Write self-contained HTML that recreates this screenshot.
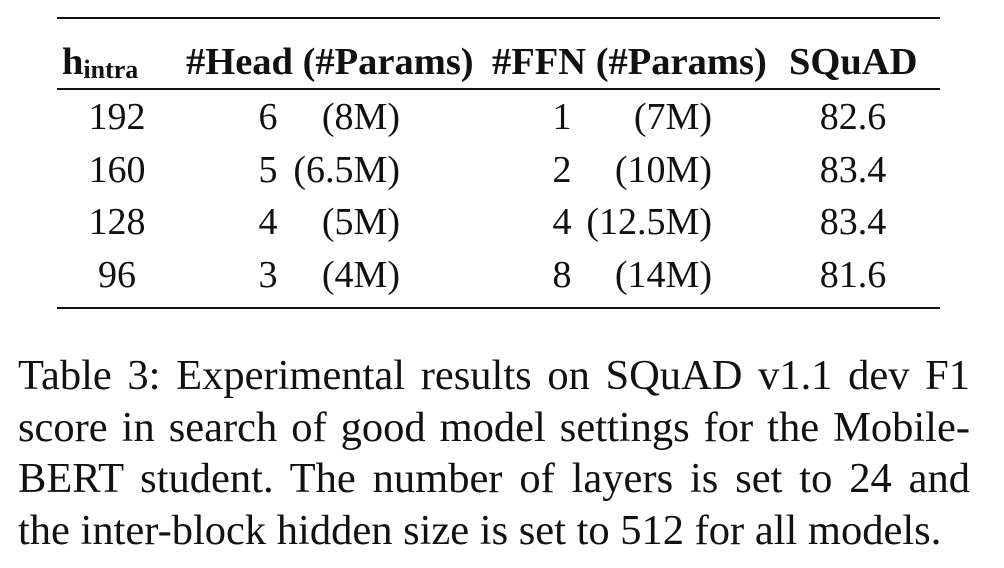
<!DOCTYPE html>
<html><head><meta charset="utf-8">
<style>
html,body{margin:0;padding:0;background:#fff;}
body{width:1004px;height:568px;position:relative;overflow:hidden;font-family:"Liberation Serif",serif;color:#111;}
.a{position:absolute;white-space:nowrap;line-height:1;}
.h{font-weight:bold;font-size:38.5px;top:43px;}
.r{font-size:38px;}
.rule{position:absolute;left:57px;width:883px;background:#111;}
.cap{position:absolute;left:18px;width:952px;font-size:42.5px;line-height:1;text-align:justify;text-align-last:justify;white-space:nowrap;}
</style></head><body>
<div>
<div class="rule" style="top:17px;height:2px"></div>
<div class="a h" style="left:62px">h<sub style="font-size:26px;vertical-align:-4px">intra</sub></div>
<div class="a h" style="left:186px">#Head (#Params)</div>
<div class="a h" style="left:492px">#FFN (#Params)</div>
<div class="a h" style="left:789px">SQuAD</div>
<div class="rule" style="top:88px;height:1.5px"></div>

<div id="rows"></div>
<div class="rule" style="top:307px;height:2px"></div>
</div>

<div class="cap" style="top:355px">Table 3: Experimental results on SQuAD v1.1 dev F1</div>
<div class="cap" style="top:407px">score in search of good model settings for the Mobile-</div>
<div class="cap" style="top:458px">BERT student. The number of layers is set to 24 and</div>
<div class="cap" style="top:510px;text-align:left;text-align-last:left;width:auto">the inter-block hidden size is set to 512 for all models.</div>

<script>
const hIntra=["192","160","128","96"];
const heads=["6","5","4","3"];
const headParams=["(8M)","(6.5M)","(5M)","(4M)"];
const ffn=["1","2","4","8"];
const ffnParams=["(7M)","(10M)","(12.5M)","(14M)"];
const squad=["82.6","83.4","83.4","81.6"];
const rows=document.getElementById('rows');
function cell(txt,css,name){
  const d=document.createElement('div');
  d.className='a r';
  d.textContent=txt;
  d.style.cssText=css;
  
  
  rows.appendChild(d);
}
for(let i=0;i<hIntra.length;i++){
  const top=(98+i*52.7)+'px';
  cell(hIntra[i],'top:'+top+';left:57px;width:120px;text-align:center','h-intra-'+i);
  cell(heads[i],'top:'+top+';left:258px;width:20px;text-align:center','head-count-'+i);
  cell(headParams[i],'top:'+top+';right:604px;text-align:right','head-params-'+i);
  cell(ffn[i],'top:'+top+';left:552px;width:20px;text-align:center','ffn-count-'+i);
  cell(ffnParams[i],'top:'+top+';right:292px;text-align:right','ffn-params-'+i);
  cell(squad[i],'top:'+top+';left:793px;width:120px;text-align:center','squad-score-'+i);
}
</script>
</body></html>
